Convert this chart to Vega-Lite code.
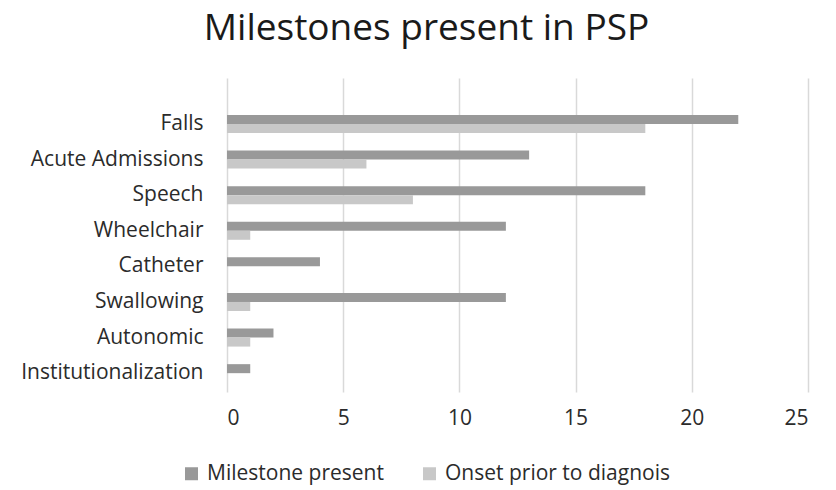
{
  "$schema": "https://vega.github.io/schema/vega-lite/v6.json",
  "autosize": "none",
  "padding": {"left": 227, "top": 78, "right": 28, "bottom": 98},
  "width": 581,
  "height": 314,
  "background": "white",
  "title": {
    "text": "Milestones present in PSP",
    "font": "Open Sans",
    "fontSize": 37,
    "fontWeight": "normal",
    "color": "#1a1a1a",
    "anchor": "middle",
    "dx": -91,
    "offset": 30
  },
  "data": {
    "values": [
      {"milestone": "Falls", "series": "Milestone present", "value": 22},
      {"milestone": "Falls", "series": "Onset prior to diagnois", "value": 18},
      {"milestone": "Acute Admissions", "series": "Milestone present", "value": 13},
      {"milestone": "Acute Admissions", "series": "Onset prior to diagnois", "value": 6},
      {"milestone": "Speech", "series": "Milestone present", "value": 18},
      {"milestone": "Speech", "series": "Onset prior to diagnois", "value": 8},
      {"milestone": "Wheelchair", "series": "Milestone present", "value": 12},
      {"milestone": "Wheelchair", "series": "Onset prior to diagnois", "value": 1},
      {"milestone": "Catheter", "series": "Milestone present", "value": 4},
      {"milestone": "Catheter", "series": "Onset prior to diagnois", "value": 0},
      {"milestone": "Swallowing", "series": "Milestone present", "value": 12},
      {"milestone": "Swallowing", "series": "Onset prior to diagnois", "value": 1},
      {"milestone": "Autonomic", "series": "Milestone present", "value": 2},
      {"milestone": "Autonomic", "series": "Onset prior to diagnois", "value": 1},
      {"milestone": "Institutionalization", "series": "Milestone present", "value": 1},
      {"milestone": "Institutionalization", "series": "Onset prior to diagnois", "value": 0}
    ]
  },
  "mark": {"type": "bar"},
  "encoding": {
    "y": {
      "field": "milestone",
      "type": "nominal",
      "sort": null,
      "scale": {"paddingInner": 0.494, "paddingOuter": 0.657, "align": 0.79},
      "axis": {
        "title": null,
        "domain": false,
        "ticks": false,
        "labelFont": "Open Sans",
        "labelFontSize": 21,
        "labelColor": "#2b2b2b",
        "labelPadding": 24,
        "labelLimit": 300
      }
    },
    "yOffset": {
      "field": "series",
      "type": "nominal",
      "scale": {"paddingInner": 0, "paddingOuter": 0}
    },
    "x": {
      "field": "value",
      "type": "quantitative",
      "scale": {"domain": [0, 25], "nice": false},
      "axis": {
        "title": null,
        "values": [0, 5, 10, 15, 20, 25],
        "domain": false,
        "ticks": false,
        "grid": true,
        "gridColor": "#d9d9d9",
        "gridWidth": 1.5,
        "labelFont": "Open Sans",
        "labelFontSize": 21,
        "labelColor": "#2b2b2b",
        "labelPadding": 15
      }
    },
    "color": {
      "field": "series",
      "type": "nominal",
      "scale": {"domain": ["Milestone present", "Onset prior to diagnois"], "range": ["#999999", "#c8c8c8"]},
      "legend": {
        "title": null,
        "orient": "none",
        "direction": "horizontal",
        "legendX": -46,
        "legendY": 385,
        "symbolType": "square",
        "symbolSize": 169,
        "symbolStrokeWidth": 0,
        "labelFont": "Open Sans",
        "labelFontSize": 21,
        "labelColor": "#2b2b2b",
        "labelLimit": 400,
        "columnPadding": 35,
        "labelOffset": 5
      }
    }
  },
  "config": {"view": {"stroke": null}}
}
